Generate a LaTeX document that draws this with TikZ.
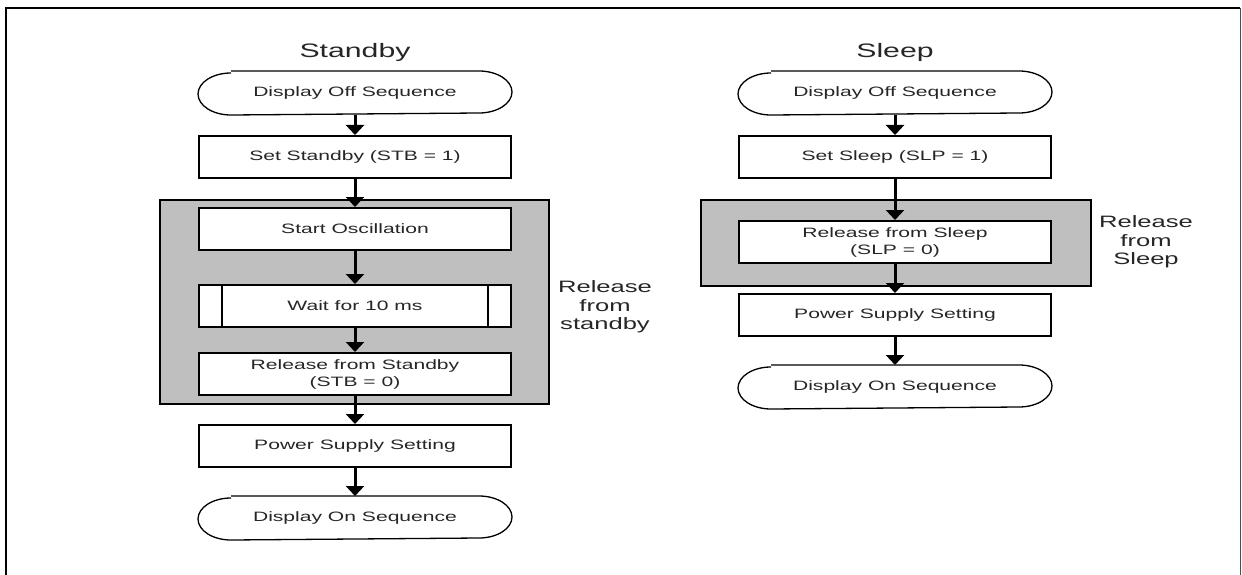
\documentclass[tikz,border=0pt]{standalone}
\usepackage{fontspec}
\setmainfont{Liberation Sans}[FakeStretch=1.55]
\usetikzlibrary{arrows.meta}

\begin{document}
\begin{tikzpicture}[x=1pt, y=-1pt,
    stepbox/.style={draw, line width=2pt, fill=white, text=black!85,
        minimum width=312pt, minimum height=42pt, inner sep=0pt,
        align=center, font=\fontsize{13.6}{17}\selectfont},
    termbox/.style={stepbox, draw=none, fill=none},
    termline/.style={line width=1.3pt},
    grayframe/.style={draw, line width=2.5pt, fill=black!25, inner sep=0pt},
    heading/.style={text=black!85, font=\fontsize{19.5}{22}\selectfont},
    sidelabel/.style={text=black!85, align=center, font=\fontsize{16.5}{18.5}\selectfont},
    flow/.style={line width=3pt, -{Triangle[width=18pt,length=10pt]}}]
    \useasboundingbox (0,0) rectangle (1242,575);

    % outer frame, open at the bottom
    \draw[line width=2.5pt] (6,575) -- (6,8) -- (1240,8);
    \draw[line width=1pt, black!70] (1240,8) -- (1240,575);

    % standby column
    \begin{scope}
        \node[heading] (stitle) at (355,52) {Standby};
        \node[grayframe, minimum width=389pt, minimum height=204pt] (sgray) at (354.5,302) {};
        \node[termbox] (soff) at (355,93) {Display Off Sequence};
        \node[stepbox] (sset) at (355,157) {Set Standby (STB = 1)};
        \node[stepbox] (sosc) at (355,229) {Start Oscillation};
        \node[stepbox] (swait) at (355,306) {Wait for 10 ms};
        \node[stepbox] (srel) at (355,374) {Release from Standby\\(STB = 0)};
        \node[stepbox] (spow) at (355,446) {Power Supply Setting};
        \node[termbox] (son) at (355,518) {Display On Sequence};
        \node[sidelabel] (slabel) at (605,307) {Release\\from\\standby};

        \draw[line width=2pt] ([xshift=24pt]swait.north west) -- ([xshift=24pt]swait.south west);
        \draw[line width=2pt] ([xshift=-24pt]swait.north east) -- ([xshift=-24pt]swait.south east);

        \draw[flow] (soff) -- (sset);
        \draw[flow] (sset) -- (sosc);
        \draw[flow] (sosc) -- (swait);
        \draw[flow] (swait) -- (srel);
        \draw[flow] (srel) -- (spow);
        \draw[flow] (spow) -- (son);
    \end{scope}

    % sleep column
    \begin{scope}
        \node[heading] (ltitle) at (895,52) {Sleep};
        \node[grayframe, minimum width=390pt, minimum height=86pt] (lgray) at (896,243) {};
        \node[termbox] (loff) at (895,93) {Display Off Sequence};
        \node[stepbox] (lset) at (895,157) {Set Sleep (SLP = 1)};
        \node[stepbox] (lrel) at (895,242) {Release from Sleep\\(SLP = 0)};
        \node[stepbox] (lpow) at (895,315) {Power Supply Setting};
        \node[termbox] (lon) at (895,387) {Display On Sequence};
        \node[sidelabel] (llabel) at (1146,242) {Release\\from\\Sleep};

        \draw[flow] (loff) -- (lset);
        \draw[flow] (lset) -- (lrel);
        \draw[flow] (lrel) -- (lpow);
        \draw[flow] (lpow) -- (lon);
    \end{scope}

    % terminal outlines with flattened ends
    \foreach \t in {soff,son,loff,lon}{
        \draw[termline] ([xshift=33pt]\t.north west) -- ([xshift=-33pt]\t.north east)
            arc[start angle=90, end angle=-90, x radius=33pt, y radius=21pt]
            -- ([xshift=33pt]\t.south west)
            arc[start angle=270, end angle=90, x radius=33pt, y radius=21pt];
    }
\end{tikzpicture}
\end{document}
